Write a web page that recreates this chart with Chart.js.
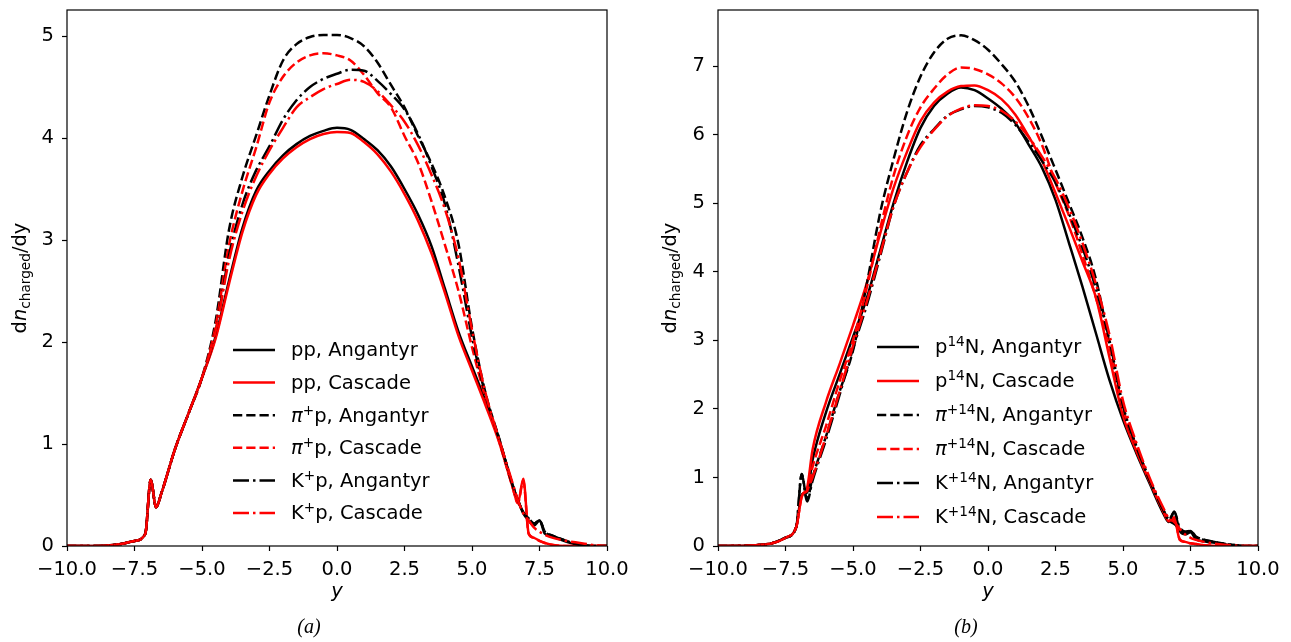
<!DOCTYPE html>
<html>
<head>
<meta charset="utf-8">
<script src="https://cdn.jsdelivr.net/npm/chart.js@4.4.1/dist/chart.umd.min.js"></script>
<style>
  html, body { margin: 0; padding: 0; background: #fff; }
  #wrap { position: relative; width: 1291px; height: 642px; }
  #ca { position: absolute; left: 0; top: 0; width: 645px; height: 642px; }
  #cb { position: absolute; left: 650px; top: 0; width: 641px; height: 642px; }
</style>
</head>
<body>
<div id="wrap">
  <canvas id="ca" width="645" height="642"></canvas>
  <canvas id="cb" width="641" height="642"></canvas>
</div>
<script>
// rapidity grid shared by every curve
const rap = [-10, -9, -8.5, -8, -7.5, -7.1, -6.9, -6.7, -6.5, -6, -5.5, -5, -4.5, -4, -3.5, -3, -2.5, -2, -1.5, -1,
  -0.5, 0, 0.5, 1, 1.5, 2, 2.5, 3, 3.5, 4, 4.5, 5, 5.5, 6, 6.5, 6.7, 6.9, 7.1, 7.3, 7.5, 7.7, 8, 8.5, 9, 9.5, 10];

const xTicks = [-10, -7.5, -5, -2.5, 0, 2.5, 5, 7.5, 10];
const yTicksA = [0, 1, 2, 3, 4, 5];
const yTicksB = [0, 1, 2, 3, 4, 5, 6, 7];

// (a) proton targets
const labelsA = ['pp, Angantyr', 'pp, Cascade', '$π$^{+}p, Angantyr', '$π$^{+}p, Cascade', 'K^{+}p, Angantyr', 'K^{+}p, Cascade'];
const ppAng = [0, 0, 0.005, 0.02, 0.05, 0.12, 0.65, 0.38, 0.52, 0.95, 1.3, 1.65, 2.05, 2.6, 3.12, 3.48, 3.68, 3.83, 3.94, 4.02,
  4.07, 4.1, 4.08, 3.99, 3.88, 3.72, 3.5, 3.25, 2.94, 2.52, 2.1, 1.76, 1.42, 1.05, 0.6, 0.45, 0.32, 0.25, 0.2, 0.25, 0.12, 0.09, 0.04, 0.01, 0, 0];
const ppCas = [0, 0, 0.005, 0.02, 0.05, 0.12, 0.65, 0.38, 0.52, 0.95, 1.3, 1.65, 2.03, 2.57, 3.08, 3.44, 3.65, 3.8, 3.91, 3.99,
  4.04, 4.06, 4.05, 3.96, 3.84, 3.67, 3.45, 3.19, 2.87, 2.48, 2.06, 1.72, 1.38, 1.02, 0.58, 0.42, 0.66, 0.12, 0.08, 0.05, 0.03, 0.01, 0, 0, 0, 0];
const piAng = [0, 0, 0.005, 0.02, 0.05, 0.12, 0.65, 0.38, 0.52, 0.95, 1.3, 1.65, 2.2, 3.1, 3.62, 4.02, 4.42, 4.76, 4.92, 4.99,
  5.01, 5.01, 4.98, 4.9, 4.74, 4.52, 4.3, 4.02, 3.75, 3.42, 2.96, 2.14, 1.5, 1.06, 0.6, 0.45, 0.33, 0.27, 0.22, 0.25, 0.14, 0.1, 0.05, 0.01, 0, 0];
const piCas = [0, 0, 0.005, 0.02, 0.05, 0.12, 0.65, 0.38, 0.52, 0.95, 1.3, 1.65, 2.15, 2.95, 3.48, 3.9, 4.35, 4.6, 4.74, 4.81,
  4.83, 4.81, 4.76, 4.62, 4.44, 4.3, 4.02, 3.76, 3.38, 2.95, 2.5, 1.95, 1.45, 1.03, 0.58, 0.42, 0.64, 0.12, 0.08, 0.05, 0.03, 0.01, 0, 0, 0, 0];
const kAng = [0, 0, 0.005, 0.02, 0.05, 0.12, 0.65, 0.38, 0.52, 0.95, 1.3, 1.65, 2.1, 2.85, 3.35, 3.68, 3.92, 4.18, 4.37, 4.5,
  4.58, 4.63, 4.67, 4.66, 4.56, 4.43, 4.28, 4.04, 3.72, 3.35, 2.75, 2.05, 1.48, 1.05, 0.6, 0.45, 0.33, 0.27, 0.22, 0.25, 0.14, 0.1, 0.05, 0.01, 0, 0];
const kCas = [0, 0, 0.005, 0.02, 0.05, 0.12, 0.65, 0.38, 0.52, 0.95, 1.3, 1.65, 2.1, 2.8, 3.28, 3.62, 3.88, 4.1, 4.3, 4.4,
  4.48, 4.53, 4.57, 4.55, 4.46, 4.32, 4.16, 3.93, 3.64, 3.3, 2.82, 2.12, 1.5, 1.05, 0.62, 0.45, 0.32, 0.25, 0.18, 0.14, 0.11, 0.08, 0.05, 0.03, 0.01, 0];

// (b) nitrogen targets
const labelsB = ['p^{14}N, Angantyr', 'p^{14}N, Cascade', '$π$^{+14}N, Angantyr', '$π$^{+14}N, Cascade', 'K^{+14}N, Angantyr', 'K^{+14}N, Cascade'];
const pnAng = [0, 0.005, 0.015, 0.04, 0.12, 0.28, 0.75, 0.78, 1.25, 1.95, 2.5, 3.05, 3.6, 4.3, 5.0, 5.6, 6.1, 6.42, 6.6, 6.69,
  6.65, 6.53, 6.38, 6.18, 5.86, 5.52, 5.05, 4.42, 3.78, 3.1, 2.42, 1.84, 1.35, 0.9, 0.47, 0.35, 0.5, 0.22, 0.17, 0.2, 0.1, 0.07, 0.04, 0.01, 0, 0];
const pnCas = [0, 0.005, 0.015, 0.04, 0.12, 0.28, 0.72, 0.85, 1.4, 2.1, 2.65, 3.22, 3.82, 4.55, 5.22, 5.75, 6.2, 6.47, 6.63, 6.71,
  6.72, 6.65, 6.52, 6.3, 5.98, 5.62, 5.15, 4.66, 4.15, 3.62, 2.75, 1.9, 1.38, 0.93, 0.5, 0.36, 0.4, 0.09, 0.06, 0.04, 0.03, 0.01, 0, 0, 0, 0];
const pinAng = [0, 0.005, 0.015, 0.04, 0.12, 0.28, 1.05, 0.68, 1.0, 1.6, 2.25, 2.85, 3.8, 4.85, 5.64, 6.33, 6.85, 7.2, 7.4, 7.45,
  7.38, 7.24, 7.03, 6.78, 6.42, 5.97, 5.49, 5.0, 4.5, 3.89, 2.95, 2.0, 1.45, 0.95, 0.52, 0.38, 0.32, 0.26, 0.21, 0.22, 0.14, 0.09, 0.05, 0.02, 0, 0];
const pinCas = [0, 0.005, 0.015, 0.04, 0.12, 0.28, 0.75, 0.8, 1.15, 1.75, 2.4, 3.0, 3.75, 4.62, 5.4, 5.98, 6.4, 6.67, 6.88, 6.98,
  6.96, 6.88, 6.75, 6.55, 6.25, 5.85, 5.3, 4.82, 4.25, 3.62, 2.9, 2.0, 1.45, 0.95, 0.5, 0.37, 0.42, 0.1, 0.06, 0.04, 0.03, 0.01, 0, 0, 0, 0];
const knAng = [0, 0.005, 0.015, 0.04, 0.12, 0.28, 1.05, 0.65, 0.95, 1.55, 2.2, 2.88, 3.5, 4.22, 4.95, 5.45, 5.85, 6.08, 6.28, 6.37,
  6.42, 6.4, 6.32, 6.15, 5.9, 5.62, 5.3, 4.85, 4.35, 3.75, 3.0, 2.05, 1.45, 0.95, 0.52, 0.38, 0.5, 0.26, 0.2, 0.22, 0.13, 0.09, 0.05, 0.02, 0, 0];
const knCas = [0, 0.005, 0.015, 0.04, 0.12, 0.28, 0.72, 0.82, 1.0, 1.6, 2.25, 2.92, 3.55, 4.25, 4.95, 5.45, 5.82, 6.07, 6.27, 6.38,
  6.43, 6.42, 6.35, 6.2, 5.97, 5.68, 5.36, 4.93, 4.42, 3.82, 3.08, 2.12, 1.5, 0.98, 0.55, 0.4, 0.35, 0.25, 0.17, 0.12, 0.09, 0.06, 0.03, 0.01, 0, 0];

const FAM = '"DejaVu Sans", sans-serif';
const FS = 19.5;
const LW = 2.5;
const styles = [
  { color: '#000000', dash: [] }, { color: '#ff0000', dash: [] },
  { color: '#000000', dash: [9.25, 4] }, { color: '#ff0000', dash: [9.25, 4] },
  { color: '#000000', dash: [16, 4, 2.5, 4] }, { color: '#ff0000', dash: [16, 4, 2.5, 4] }
];

// tiny rich text: $..$ italic, ^{..} superscript, _{..} subscript
function parseRuns(s) {
  const runs = []; let buf = '', it = false, i = 0;
  const push = (t, mode, ital) => { if (t) runs.push({ t, mode, it: ital }); };
  while (i < s.length) {
    const c = s[i];
    if (c === '$') { push(buf, 'n', it); buf = ''; it = !it; i++; }
    else if ((c === '^' || c === '_') && s[i + 1] === '{') {
      push(buf, 'n', it); buf = '';
      const j = s.indexOf('}', i);
      push(s.slice(i + 2, j), c === '^' ? 'sup' : 'sub', false);
      i = j + 1;
    } else { buf += c; i++; }
  }
  push(buf, 'n', it);
  return runs;
}
function drawRich(ctx, s, x, y, size, dry) {
  let cx = x;
  parseRuns(s).forEach(r => {
    const fs = r.mode === 'n' ? size : size * 0.7;
    ctx.font = (r.it ? 'italic ' : '') + fs + 'px ' + FAM;
    const dy = r.mode === 'sup' ? -size * 0.36 : r.mode === 'sub' ? size * 0.2 : 0;
    if (!dry) ctx.fillText(r.t, cx, y + dy);
    cx += ctx.measureText(r.t).width;
  });
  return cx - x;
}

function makeExtras(cfg) {
  return {
    id: 'extras',
    afterDraw(chart) {
      const ctx = chart.ctx, a = chart.chartArea;
      ctx.save();
      ctx.strokeStyle = '#000'; ctx.lineWidth = 1.2; ctx.setLineDash([]);
      ctx.strokeRect(a.left, a.top, a.right - a.left, a.bottom - a.top);

      // legend, no frame
      ctx.textAlign = 'left'; ctx.textBaseline = 'alphabetic'; ctx.fillStyle = '#000';
      chart.data.datasets.forEach((ds, i) => {
        const y = cfg.legY + i * cfg.legDy;
        ctx.beginPath();
        ctx.setLineDash(ds.borderDash);
        ctx.lineWidth = ds.borderWidth; ctx.strokeStyle = ds.borderColor;
        ctx.moveTo(cfg.legX, y); ctx.lineTo(cfg.legX + 42, y); ctx.stroke();
        ctx.setLineDash([]);
        drawRich(ctx, ds.label, cfg.legX + 58, y + 0.33 * FS, FS, false);
      });

      // y axis title
      const yt = 'd$n$_{charged}/dy';
      ctx.save();
      ctx.translate(cfg.yTitleX, (a.top + a.bottom) / 2);
      ctx.rotate(-Math.PI / 2);
      const w = drawRich(ctx, yt, 0, 0, FS, true);
      drawRich(ctx, yt, -w / 2, 0, FS, false);
      ctx.restore();

      // x axis title
      ctx.textAlign = 'center';
      ctx.font = 'italic ' + FS + 'px ' + FAM;
      ctx.fillText('y', (a.left + a.right) / 2, 597);

      // panel tag
      ctx.font = 'italic 20px "Liberation Serif", serif';
      ctx.fillText(cfg.tag, cfg.tagX, 633);
      ctx.restore();
    }
  };
}

function makeChart(id, series, labels, yMax, yTicks, cfg) {
  const datasets = series.map((vals, i) => ({
    label: labels[i],
    data: rap.map((x, k) => ({ x, y: vals[k] })),
    borderColor: styles[i].color,
    borderDash: styles[i].dash,
    borderWidth: LW,
    pointRadius: 0,
    fill: false,
    cubicInterpolationMode: 'monotone',
    order: series.length - i
  }));
  return new Chart(document.getElementById(id), {
    type: 'line',
    data: { datasets },
    options: {
      responsive: false, animation: false, events: [],
      layout: { padding: { left: 0, top: 10, right: cfg.padRight, bottom: 0 } },
      plugins: { legend: { display: false }, tooltip: { enabled: false } },
      scales: {
        x: {
          type: 'linear', min: -10, max: 10,
          afterBuildTicks: s => { s.ticks = xTicks.map(v => ({ value: v })); },
          afterFit: s => { s.height = 96; s.paddingLeft = 0; s.paddingRight = 0; },
          grid: { drawOnChartArea: false, drawTicks: true, tickLength: 5, tickColor: '#000', tickWidth: 1.2 },
          border: { display: false },
          ticks: {
            color: '#000', padding: 9, autoSkip: false, maxRotation: 0, minRotation: 0,
            font: { family: FAM, size: FS, lineHeight: 1 },
            callback: v => (v < 0 ? '\u2212' : '') + Math.abs(v).toFixed(1)
          }
        },
        y: {
          type: 'linear', min: 0, max: yMax,
          afterBuildTicks: s => { s.ticks = yTicks.map(v => ({ value: v })); },
          afterFit: s => { s.width = cfg.yWidth; s.paddingTop = 0; s.paddingBottom = 0; },
          grid: { drawOnChartArea: false, drawTicks: true, tickLength: 5, tickColor: '#000', tickWidth: 1.2 },
          border: { display: false },
          ticks: {
            color: '#000', padding: 8,
            font: { family: FAM, size: FS, lineHeight: 1 },
            callback: v => String(v)
          }
        }
      }
    },
    plugins: [makeExtras(cfg)]
  });
}

makeChart('ca', [ppAng, ppCas, piAng, piCas, kAng, kCas], labelsA, 5.255, yTicksA,
  { padRight: 38, yWidth: 67, legX: 233, legY: 350, legDy: 32.6, yTitleX: 26, tag: '(a)', tagX: 309 });
makeChart('cb', [pnAng, pnCas, pinAng, pinCas, knAng, knCas], labelsB, 7.82, yTicksB,
  { padRight: 33, yWidth: 68, legX: 227, legY: 347, legDy: 34, yTitleX: 26, tag: '(b)', tagX: 316 });
</script>
</body>
</html>
